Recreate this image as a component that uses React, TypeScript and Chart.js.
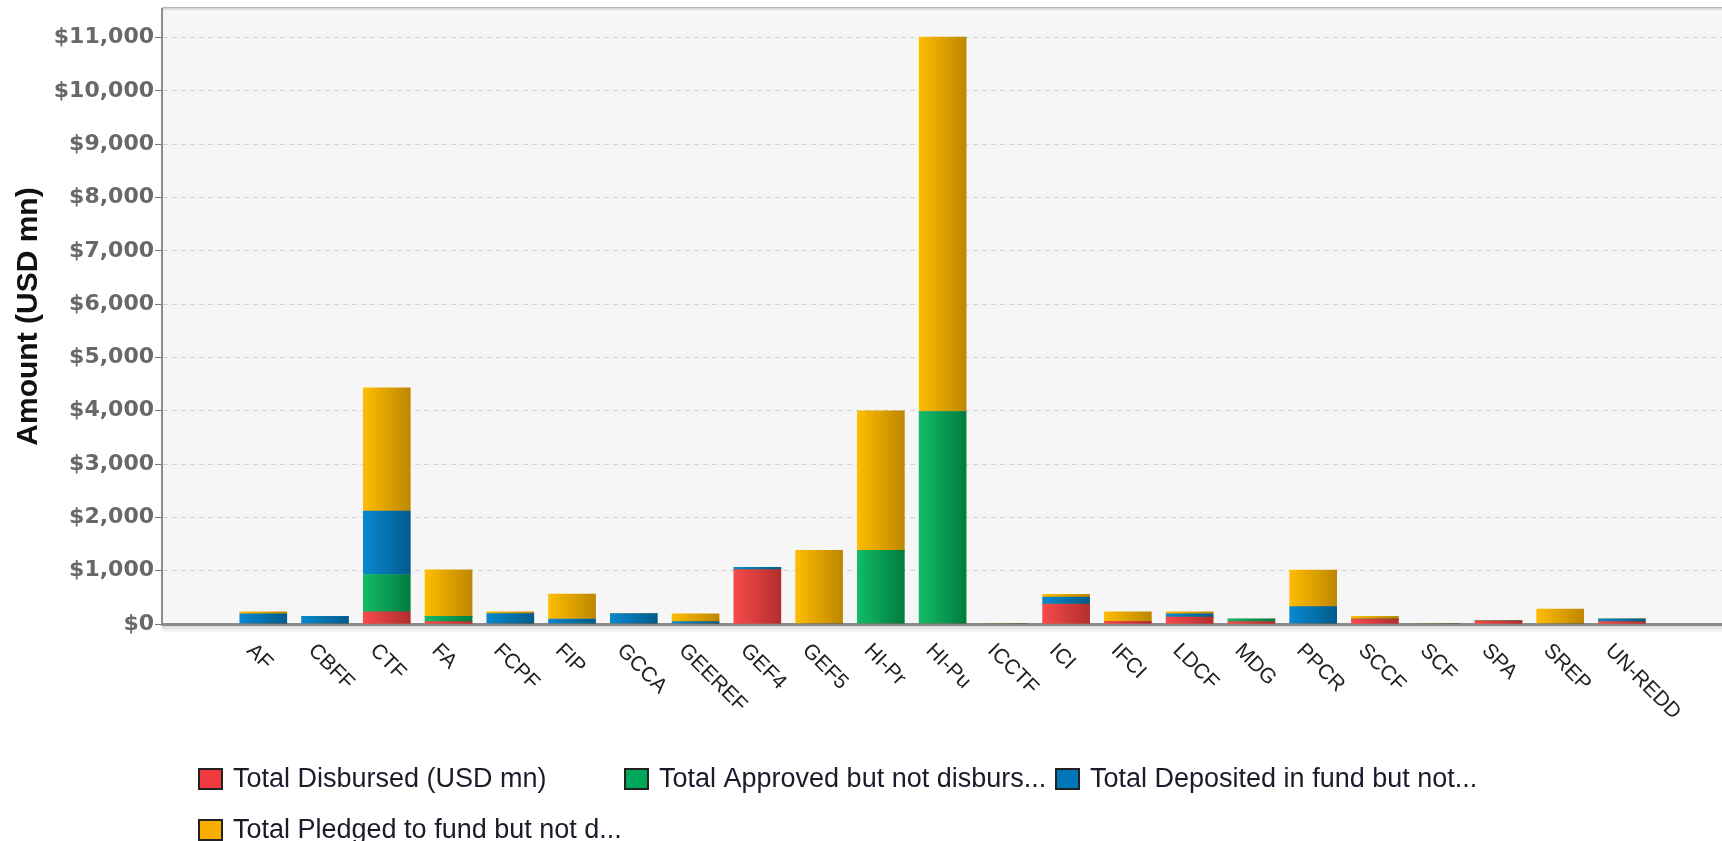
import React, { useEffect, useRef } from 'react';
import { Chart, registerables } from 'chart.js';

Chart.register(...registerables);

const categories = ['AF', 'CBFF', 'CTF', 'FA', 'FCPF', 'FIP', 'GCCA', 'GEEREF', 'GEF4', 'GEF5', 'HI-Pr', 'HI-Pu', 'ICCTF', 'ICI', 'IFCI', 'LDCF', 'MDG', 'PPCR', 'SCCF', 'SCF', 'SPA', 'SREP', 'UN-REDD'];
const disbursed = [0, 0, 229, 46, 0, 0, 0, 0, 1020, 0, 0, 0, 0, 373, 52, 131, 46, 0, 92, 0, 59, 0, 46];
const approved = [0, 0, 699, 98, 0, 0, 0, 0, 0, 0, 1380, 3985, 0, 0, 0, 0, 46, 0, 0, 0, 0, 0, 0];
const deposited = [190, 144, 1192, 0, 196, 92, 196, 46, 45, 0, 0, 0, 0, 130, 0, 59, 0, 327, 0, 0, 0, 0, 52];
const pledged = [40, 0, 2310, 870, 33, 470, 0, 144, 0, 1380, 2620, 7025, 0, 52, 177, 39, 0, 686, 52, 0, 0, 281, 0];
const seriesNames = ['Total Disbursed (USD mn)', 'Total Approved but not disburs...', 'Total Deposited in fund but not...', 'Total Pledged to fund but not d...'];
const yAxisTitle = 'Amount (USD mn)';
const yTicks = [0, 1000, 2000, 3000, 4000, 5000, 6000, 7000, 8000, 9000, 10000, 11000];
const yMax = 11535;

const seriesValues = [disbursed, approved, deposited, pledged];
const seriesLight = ['#f74a4a', '#12bb68', '#0a88cf', '#ffbc00'];
const seriesDark = ['#b32e2e', '#007d3f', '#005c8c', '#bd8700'];
const legendColors = ['#ef3b3f', '#00a75a', '#0077b9', '#f7ae00'];

const BAR = 47;

export default function App() {
  const ref = useRef<HTMLCanvasElement>(null);

  useEffect(() => {
    if (!ref.current) return;

    const bgPlugin = {
      id: 'bg',
      beforeDraw(chart: any) {
        const { ctx, chartArea } = chart;
        const { left, top, right, bottom } = chartArea;
        ctx.save();
        ctx.fillStyle = '#f6f6f6';
        ctx.fillRect(left, top, right - left, bottom - top);
        ctx.fillStyle = '#b4b4b4';
        ctx.fillRect(left, top - 2, right - left, 1.5);
        ctx.fillStyle = '#dcdcdc';
        ctx.fillRect(left, top - 0.5, right - left, 1.5);
        const g = ctx.createLinearGradient(0, bottom + 1, 0, bottom + 9);
        g.addColorStop(0, 'rgba(0,0,0,0.16)');
        g.addColorStop(1, 'rgba(0,0,0,0)');
        ctx.fillStyle = g;
        ctx.fillRect(left, bottom + 1, right - left, 8);
        ctx.restore();
      },
      afterDraw(chart: any) {
        const { ctx, chartArea } = chart;
        const xs = chart.scales.x;
        ctx.save();
        ctx.fillStyle = '#222';
        ctx.font = '21px "Liberation Sans", Arial, sans-serif';
        ctx.textAlign = 'left';
        ctx.textBaseline = 'top';
        categories.forEach((c, i) => {
          const px = xs.getPixelForValue(i);
          ctx.save();
          ctx.translate(px - 6, chartArea.bottom + 16);
          ctx.rotate(Math.PI / 4);
          ctx.fillText(c, 0, 0);
          ctx.restore();
        });
        // legend
        const pos = [
          [198, 768],
          [624, 768],
          [1055, 768],
          [198, 819],
        ];
        ctx.font = '27px "Liberation Sans", Arial, sans-serif';
        ctx.textBaseline = 'alphabetic';
        seriesNames.forEach((n, i) => {
          const [x, y] = pos[i];
          ctx.fillStyle = legendColors[i];
          ctx.fillRect(x, y, 25, 22);
          ctx.strokeStyle = '#222';
          ctx.lineWidth = 2;
          ctx.strokeRect(x + 1, y + 1, 23, 20);
          ctx.fillStyle = '#1b1b2a';
          ctx.fillText(n, x + 35, y + 19);
        });
        ctx.restore();
      },
    };

    const datasets = seriesNames.map((name, si) => ({
      label: name,
      data: seriesValues[si].map((v, i) => ({ x: i, y: v })),
      barThickness: BAR,
      borderWidth: 0,
      backgroundColor: (c: any) => {
        const chart = c.chart;
        const xs = chart.scales && chart.scales.x;
        if (!xs || c.dataIndex === undefined || !chart.chartArea) return seriesLight[si];
        const px = xs.getPixelForValue(c.dataIndex);
        const g = chart.ctx.createLinearGradient(px - BAR / 2, 0, px + BAR / 2, 0);
        g.addColorStop(0, seriesLight[si]);
        g.addColorStop(1, seriesDark[si]);
        return g;
      },
    }));

    const chart = new Chart(ref.current, {
      type: 'bar',
      data: { datasets },
      plugins: [bgPlugin],
      options: {
        animation: false,
        responsive: false,
        layout: { padding: { top: 9, left: 0, right: 0, bottom: 0 } },
        plugins: { legend: { display: false }, tooltip: { enabled: false } },
        scales: {
          x: {
            type: 'linear',
            stacked: true,
            offset: false,
            min: -1.64,
            max: 23.62,
            grid: { display: false, offset: false },
            border: { display: true, color: '#8c8c8c', width: 3 },
            ticks: { display: false },
            afterFit: (s: any) => {
              s.height = 217;
              s.paddingLeft = 0;
              s.paddingRight = 0;
            },
          },
          y: {
            stacked: true,
            min: 0,
            max: yMax,
            grid: {
              color: '#d4d4d4',
              tickColor: '#7a7a7a',
              tickLength: 7,
              tickBorderDash: [],
              lineWidth: 1,
            },
            border: { display: true, color: '#8c8c8c', width: 2, dash: [5, 4] },
            ticks: {
              autoSkip: false,
              padding: 1,
              color: '#686868',
              font: { family: '"DejaVu Sans", Verdana, sans-serif', weight: 'bold', size: 22 },
              callback: (v: any) => '$' + Number(v).toLocaleString('en-US'),
            },
            afterBuildTicks: (s: any) => {
              s.ticks = yTicks.map((v) => ({ value: v }));
            },
            title: {
              display: true,
              text: yAxisTitle,
              color: '#111',
              font: { family: '"Liberation Sans", Arial, sans-serif', weight: 'bold', size: 30 },
              padding: { top: 11, bottom: 0 },
            },
            afterFit: (s: any) => {
              s.width = 162;
              s.paddingTop = 0;
              s.paddingBottom = 0;
            },
          },
        },
      },
    } as any);

    return () => chart.destroy();
  }, []);

  return (
    <div style={{ position: 'fixed', left: 0, top: 0, width: 1722, height: 841 }}>
      <canvas ref={ref} width={1722} height={841} style={{ width: 1722, height: 841 }} />
    </div>
  );
}
